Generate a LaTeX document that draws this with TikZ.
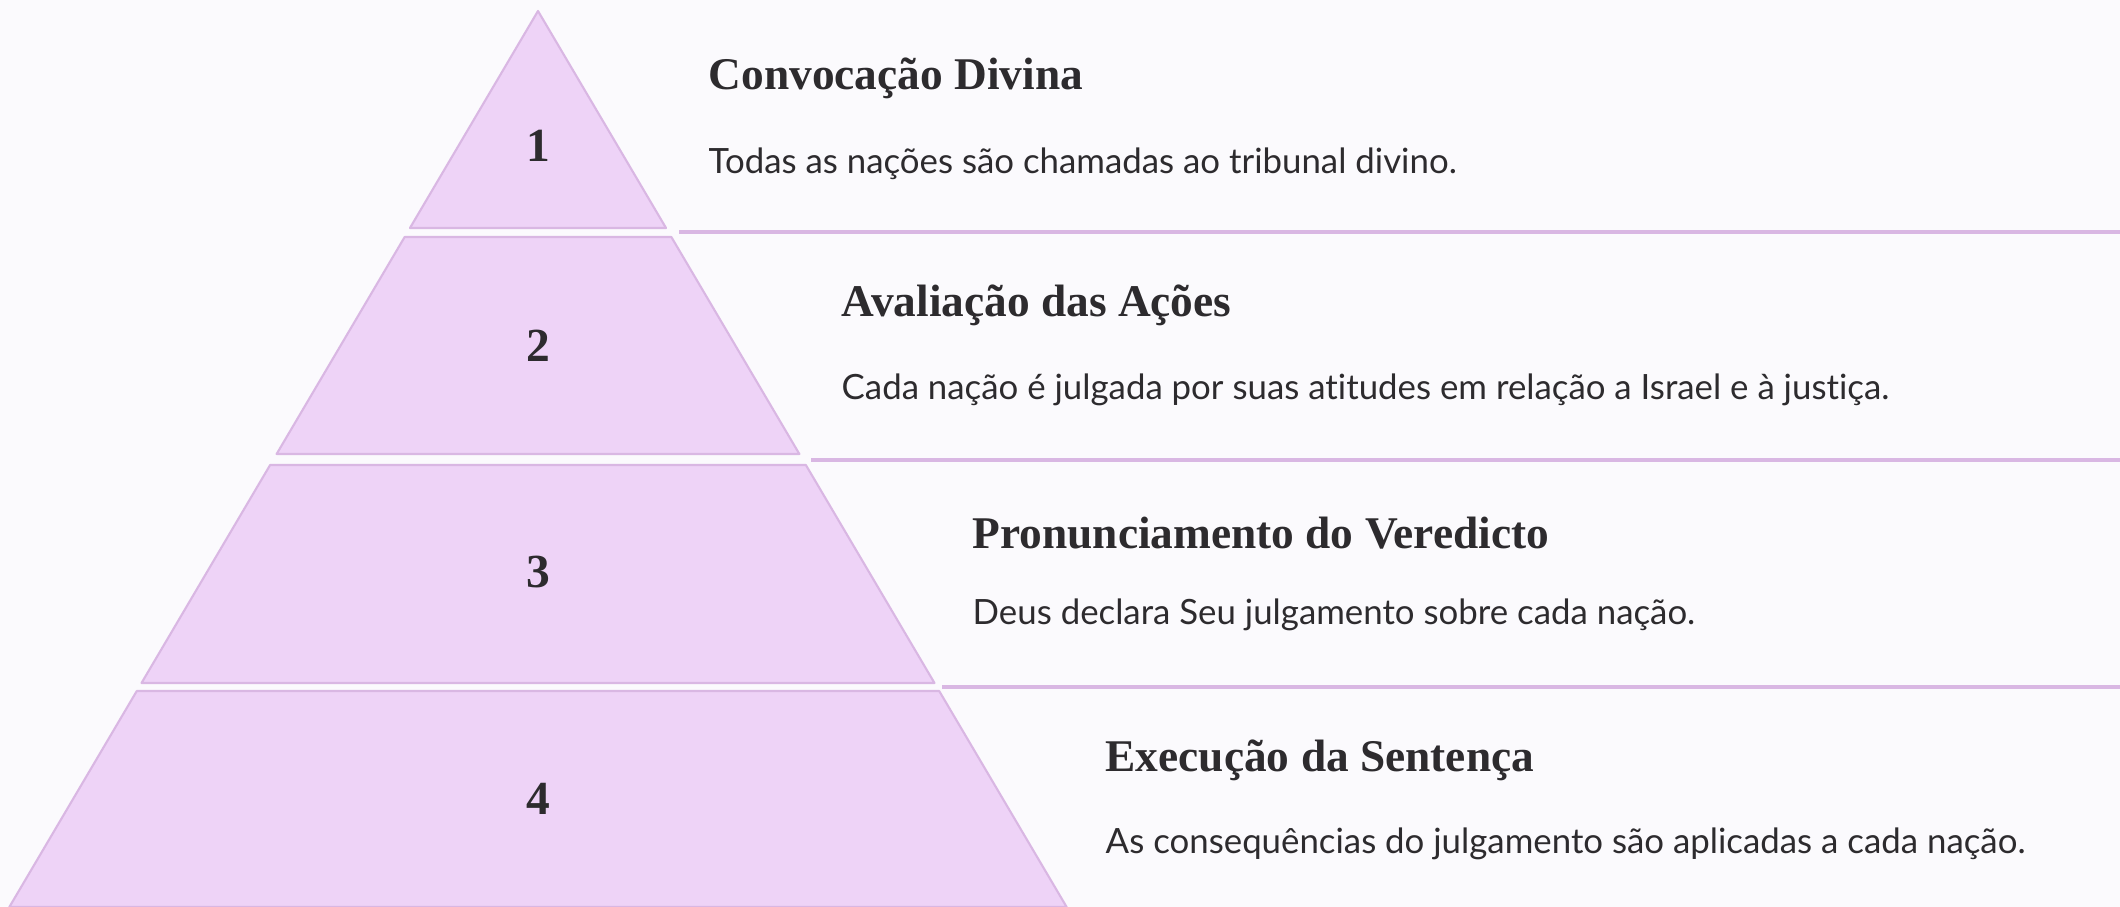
\documentclass[tikz,border=0pt]{standalone}
\usepackage{fontspec}
\setmainfont{Liberation Serif}
\newfontfamily\bodyfont[Ligatures=NoCommon]{Lato}
\usetikzlibrary{positioning}
\definecolor{tierfill}{HTML}{EED3F7}
\definecolor{tierline}{HTML}{D9B7E3}
\definecolor{ink}{HTML}{2D2B2E}
\definecolor{paper}{HTML}{FBFAFD}

\begin{document}
\begin{tikzpicture}[x=0.01cm, y=-0.01cm,
  tier/.style={fill=tierfill, draw=tierline, line width=0.6pt, line join=round},
  sepline/.style={draw=tierline, line width=0.9pt},
  num/.style={text=ink, font=\fontsize{13.5}{16}\selectfont\bfseries},
  head/.style={anchor=west, inner sep=0pt, text=ink, font=\fontsize{12.9}{15}\selectfont\bfseries},
  body/.style={anchor=west, inner sep=0pt, text=ink, font=\bodyfont\fontsize{9.9}{12}\selectfont}]
 \fill[paper] (0,0) rectangle (2120,907);
 \useasboundingbox (0,0) rectangle (2120,907);

 % pyramid, cut in four tiers
 \foreach \n/\top/\bot/\cy in {1/11/228/146, 2/237/454/346, 3/465/683/572, 4/691/907/799}{
   \pgfmathsetmacro\wt{0.59*(\top-11)}
   \pgfmathsetmacro\wb{0.59*(\bot-11)}
   \draw[tier] (538-\wt,\top) -- (538+\wt,\top) -- (538+\wb,\bot) -- (538-\wb,\bot) -- cycle;
   \node[num] (num\n) at (538,\cy) {\n};
 }

 % separators
 \foreach \n/\sx/\sy in {a/679/232, b/811/460, c/942/687}{
   \coordinate (sep\n) at (\sx,\sy);
   \coordinate (end\n) at (2120,\sy);
   \draw[sepline] (sep\n) -- (end\n);
 }

 % texts
 \foreach \n/\tx/\hy/\by/\head/\body in {
   1/708/78/164/Convocação Divina/Todas as nações são chamadas ao tribunal divino.,
   2/841/305/390/Avaliação das Ações/Cada nação é julgada por suas atitudes em relação a Israel e à justiça.,
   3/972/533/615/Pronunciamento do Veredicto/Deus declara Seu julgamento sobre cada nação.,
   4/1105/760/844/Execução da Sentença/As consequências do julgamento são aplicadas a cada nação.}{
   \node[head] (head\n) at (\tx,\hy) {\head};
   \node[body] (body\n) at (\tx,\by) {\body};
 }
\end{tikzpicture}
\end{document}
